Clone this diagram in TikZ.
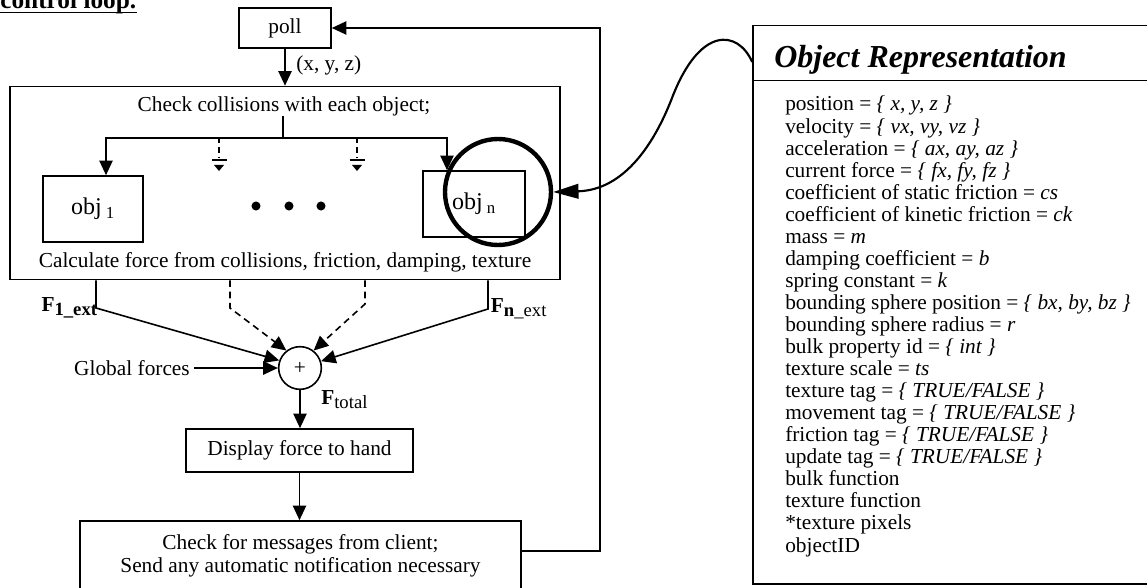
\documentclass[tikz,border=0pt]{standalone}
\usepackage{fontspec}
\setmainfont{Liberation Serif}
\usetikzlibrary{arrows.meta}

\newcommand{\fsub}[1]{\raisebox{-3pt}{\fontsize{14}{14}\selectfont #1}}

\tikzset{
  box/.style={draw, line width=1.2pt, inner sep=0pt},
  arr/.style={line width=1.2pt, -{Triangle[length=11pt,width=10pt]}},
  dsh/.style={arr, dash pattern=on 5pt off 3.5pt},
  txt/.style={font=\fontsize{16}{17.25}\selectfont, inner sep=0pt},
}

\begin{document}
\begin{tikzpicture}[x=0.75pt,y=-0.75pt]
  \useasboundingbox (0,0) rectangle (1147,588);

  % control loop
  \node (ctl) [anchor=base west, inner sep=0pt, font=\fontsize{19}{20}\selectfont\bfseries] at (0,9) {control loop.};
  \draw[line width=1.1pt] ([yshift=-2.5pt]ctl.base west) -- ([yshift=-2.5pt]ctl.base east);

  \node (poll) [box, txt, minimum width=69pt, minimum height=30pt] at (285,28) {poll};
  \node (coll) [box, minimum width=412.5pt, minimum height=144.75pt] at (285,183) {};
  \draw[arr] (poll.south) -- (poll.south |- coll.north);
  \node (xyz) [txt, anchor=west] at (296,65) {(x, y, z)};

  \node (chk) [txt] at (284,106) {Check collisions with each object;};
  \node (obja) [box, minimum width=75pt, minimum height=49.5pt, font=\fontsize{18}{18}\selectfont] at (93,209) {obj\,\textsubscript{1}};
  \node (objn) [box, minimum width=76.5pt, minimum height=49.5pt, font=\fontsize{18}{18}\selectfont] at (474,204) {obj\,\textsubscript{n}};
  \coordinate (br) at (283,138);
  \draw[line width=1.2pt] (chk.south -| br) -- (br);
  \draw[arr] (br) -| ([xshift=9.75pt]obja.north);
  \draw[arr] (br) -| ([xshift=-20.25pt]objn.north);
  \foreach \gx in {219,357} {
    \draw[line width=1.2pt, dash pattern=on 4pt off 3pt] (\gx,138) -- ++(0,20);
    \draw[line width=1.2pt] (\gx-7.5,160) -- ++(15,0);
    \fill (\gx-5,165) -- ++(10,0) -- ++(-5,6) -- cycle;
  }
  \foreach \dx in {256,289,321}
    \fill (\dx,206) circle (3.4pt);
  \node (calc) [txt] at (285,262) {Calculate force from collisions, friction, damping, texture};

  \node (ring) [circle, draw, line width=3.3pt, minimum size=79.5pt] at (498,192) {};

  % forces
  \node (sum) [circle, draw, line width=1.2pt, inner sep=0pt, minimum size=32pt, txt] at (300,368) {+};
  \coordinate (k1) at (96,308);
  \coordinate (ka) at (230,308);
  \coordinate (kb) at (365,304);
  \coordinate (kn) at (488,309);
  \draw[arr] (k1 |- coll.south) -- (k1) -- (sum.160);
  \draw[dsh] (ka |- coll.south) -- (ka) -- (sum.128);
  \draw[dsh] (kb |- coll.south) -- (kb) -- (sum.52);
  \draw[arr] (kn |- coll.south) -- (kn) -- (sum.18);
  \node (f1) [txt, anchor=east] at ([xshift=1pt]k1) {\textbf{F}\fsub{\textbf{1\_ext}}};
  \node (fn) [txt, anchor=west] at ([xshift=2pt]kn) {\textbf{F}\fsub{\textbf{n}\_ext}};
  \node (glob) [txt] at (132,368) {Global forces};
  \draw[arr] (glob.east) ++(3pt,0) -- (sum.west);
  \node (ftot) [txt, anchor=west] at (321,400) {\textbf{F}\fsub{total}};

  \node (disp) [box, txt, minimum width=170.25pt, minimum height=32.25pt] at (299.5,450.5) {Display force to hand};
  \draw[arr] (sum.south) -- (sum.south |- disp.north);
  \node (msg) [box, txt, align=center, minimum width=330.75pt, minimum height=52.5pt] at (300.5,556)
    {Check for messages from client;\\Send any automatic notification necessary};
  \draw[arr] (disp.south) -- (disp.south |- msg.north);
  \coordinate (fb) at (600,551);
  \draw[arr] (msg.east |- fb) -- (fb) |- (poll.east);

  % object representation
  \node (hdr) [box, minimum width=309pt, minimum height=41.3pt] at (959,53) {};
  \node (body) [box, minimum width=309pt, minimum height=377.6pt] at (959,332.3) {};
  \node (ttl) [anchor=base west, inner sep=0pt, font=\fontsize{24}{28}\selectfont\bfseries\itshape] at (774,68) {Object Representation};
  \foreach \t [count=\i] in {
      {position = \textit{\{ x, y, z \}}},
      {velocity = \textit{\{ vx, vy, vz \}}},
      {acceleration = \textit{\{ ax, ay, az \}}},
      {current force = \textit{\{ fx, fy, fz \}}},
      {coefficient of static friction = \textit{cs}},
      {coefficient of kinetic friction = \textit{ck}},
      {mass = \textit{m}},
      {damping coefficient = \textit{b}},
      {spring constant = \textit{k}},
      {bounding sphere position = \textit{\{ bx, by, bz \}}},
      {bounding sphere radius = \textit{r}},
      {bulk property id = \textit{\{ int \}}},
      {texture scale = \textit{ts}},
      {texture tag = \textit{\{ TRUE/FALSE \}}},
      {movement tag = \textit{\{ TRUE/FALSE \}}},
      {friction tag = \textit{\{ TRUE/FALSE \}}},
      {update tag = \textit{\{ TRUE/FALSE \}}},
      {bulk function},
      {texture function},
      {*texture pixels},
      {objectID}} {
    \node (p\i) [txt, anchor=base west] at (785,111+22.05*\i-22.05) {\t};
  }
  \draw[line width=1.6pt, -{Triangle[length=19pt,width=11pt]}] ([yshift=-6.75pt]hdr.west)
    .. controls (738,30) and (700,25) .. (672,98)
    .. controls (655,142) and (625,190) .. (ring.east);
\end{tikzpicture}
\end{document}
